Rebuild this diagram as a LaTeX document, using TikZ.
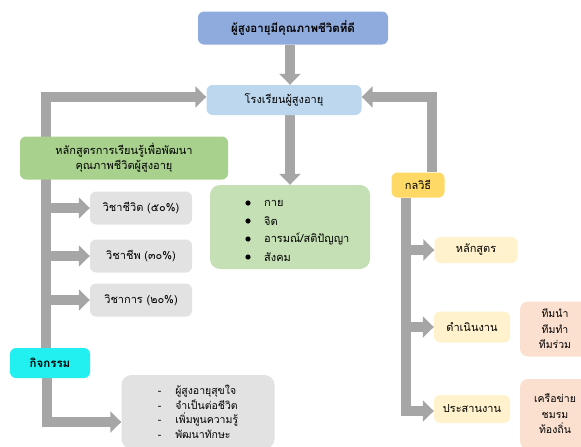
\documentclass[tikz,border=0pt]{standalone}
\usepackage{fontspec}
\newfontfamily\thaifont[Script=Thai]{Loma}
\usetikzlibrary{arrows.meta,backgrounds,positioning}
\definecolor{topblue}{HTML}{8FAADC}
\definecolor{schoolblue}{HTML}{BDD7EE}
\definecolor{hlgreen}{HTML}{A9D18E}
\definecolor{lightgreen}{HTML}{C5E0B4}
\definecolor{boxgray}{HTML}{E2E2E2}
\definecolor{actcyan}{HTML}{22F0F0}
\definecolor{klyellow}{HTML}{FFD966}
\definecolor{paleyellow}{HTML}{FFF2CC}
\definecolor{peach}{HTML}{FBE0CF}
\definecolor{linegray}{HTML}{A6A6A6}
\tikzset{
  box/.style={rounded corners=6pt, inner sep=2pt, align=center, font=\thaifont\fontsize{11}{14}\selectfont},
  conn/.style={draw=linegray, line width=10pt},
  arr/.style={conn, -{Triangle[width=21pt,length=11pt]}},
}
\begin{document}
\begin{tikzpicture}[x=1pt,y=-1pt]
\useasboundingbox (0,0) rectangle (581,447);
% nodes
\node[box, fill=topblue, minimum width=190pt, minimum height=33pt, font=\thaifont\bfseries\fontsize{11.5}{13}\selectfont] (top) at (293,28) {ผู้สูงอายุมีคุณภาพชีวิตที่ดี};
\node[box, fill=schoolblue, minimum width=155pt, minimum height=30pt] (school) at (284,100) {โรงเรียนผู้สูงอายุ};
\node[box, fill=hlgreen, minimum width=208pt, minimum height=43pt, font=\thaifont\fontsize{11}{15}\selectfont] (hl) at (124,158) {หลักสูตรการเรียนรู้เพื่อพัฒนา\\คุณภาพชีวิตผู้สูงอายุ};
\node[box, fill=lightgreen, minimum width=160pt, minimum height=84pt, rounded corners=10pt] (bul) at (290,227) {};
\foreach \t [count=\i] in {กาย,จิต,อารมณ์/สติปัญญา,สังคม}{
  \node[font=\thaifont\fontsize{11}{12}\selectfont, anchor=west, inner sep=0pt] (b\i) at (264,203+18*\i-18) {\t};
  \fill (b\i.west) ++(-16,0) circle (2.6pt);
}
\node[box, fill=boxgray, minimum width=102pt, minimum height=33pt] (s1) at (141,208) {วิชาชีวิต (๕๐\%)};
\node[box, fill=boxgray, minimum width=102pt, minimum height=33pt] (s2) at (141,256) {วิชาชีพ (๓๐\%)};
\node[box, fill=boxgray, minimum width=102pt, minimum height=33pt] (s3) at (141,300) {วิชาการ (๒๐\%)};
\node[box, fill=actcyan, minimum width=80pt, minimum height=30pt, font=\thaifont\bfseries\fontsize{11.5}{13}\selectfont] (act) at (50,363) {กิจกรรม};
\node[box, fill=boxgray, minimum width=153pt, minimum height=74pt, rounded corners=10pt, align=left, font=\thaifont\fontsize{10.5}{14.5}\selectfont] (actbox) at (198,412)
  {-\hspace{14pt}ผู้สูงอายุสุขใจ\\-\hspace{14pt}จำเป็นต่อชีวิต\\-\hspace{14pt}เพิ่มพูนความรู้\\-\hspace{14pt}พัฒนาทักษะ};
\node[box, fill=klyellow, minimum width=53pt, minimum height=25pt] (kl) at (418,185) {กลวิธี};
\node[box, fill=paleyellow, minimum width=83pt, minimum height=26pt] (k1) at (476,250) {หลักสูตร};
\node[box, fill=paleyellow, minimum width=76pt, minimum height=31pt] (k2) at (472,327) {ดำเนินงาน};
\node[box, fill=paleyellow, minimum width=76pt, minimum height=28pt] (k3) at (472,409) {ประสานงาน};
\node[box, fill=peach, minimum width=70pt, minimum height=55pt, rounded corners=8pt, text width=60pt, font=\thaifont\fontsize{10.5}{15.5}\selectfont] (t1) at (555,329) {ทีมนำ\\ทีมทำ\\ทีมร่วม};
\node[box, fill=peach, minimum width=70pt, minimum height=70pt, rounded corners=8pt, text width=60pt, font=\thaifont\fontsize{10.5}{15.5}\selectfont] (t2) at (555,414) {เครือข่าย\\ชมรม\\ท้องถิ่น};
% connectors
\coordinate (L1) at (46,97);
\coordinate (L2) at (47,422);
\coordinate (R1) at (432,97);
\coordinate (R2) at (406,411);
\coordinate (M) at (290,0);
\begin{scope}[on background layer]
\draw[arr] (top.south -| M) -- (school.north -| M);
\draw[arr] (school.south -| M) -- (bul.north -| M);
\draw[arr] (act.north -| L1) -- (L1) -- (school.west |- L1);
\draw[arr] (s1.west -| L1) -- (s1.west);
\draw[arr] (s2.west -| L1) -- (s2.west);
\draw[arr] (s3.west -| L1) -- (s3.west);
\draw[arr] (act.south -| L2) -- (L2) -- (actbox.west |- L2);
\draw[arr] (kl.north -| R1) -- (R1) -- (school.east |- R1);
\draw[arr] (kl.south -| R2) -- (R2) -- (k3.west |- R2);
\draw[arr] (k1.west -| R2) -- (k1.west);
\draw[arr] (k2.west -| R2) -- (k2.west);
\end{scope}
\end{tikzpicture}
\end{document}
